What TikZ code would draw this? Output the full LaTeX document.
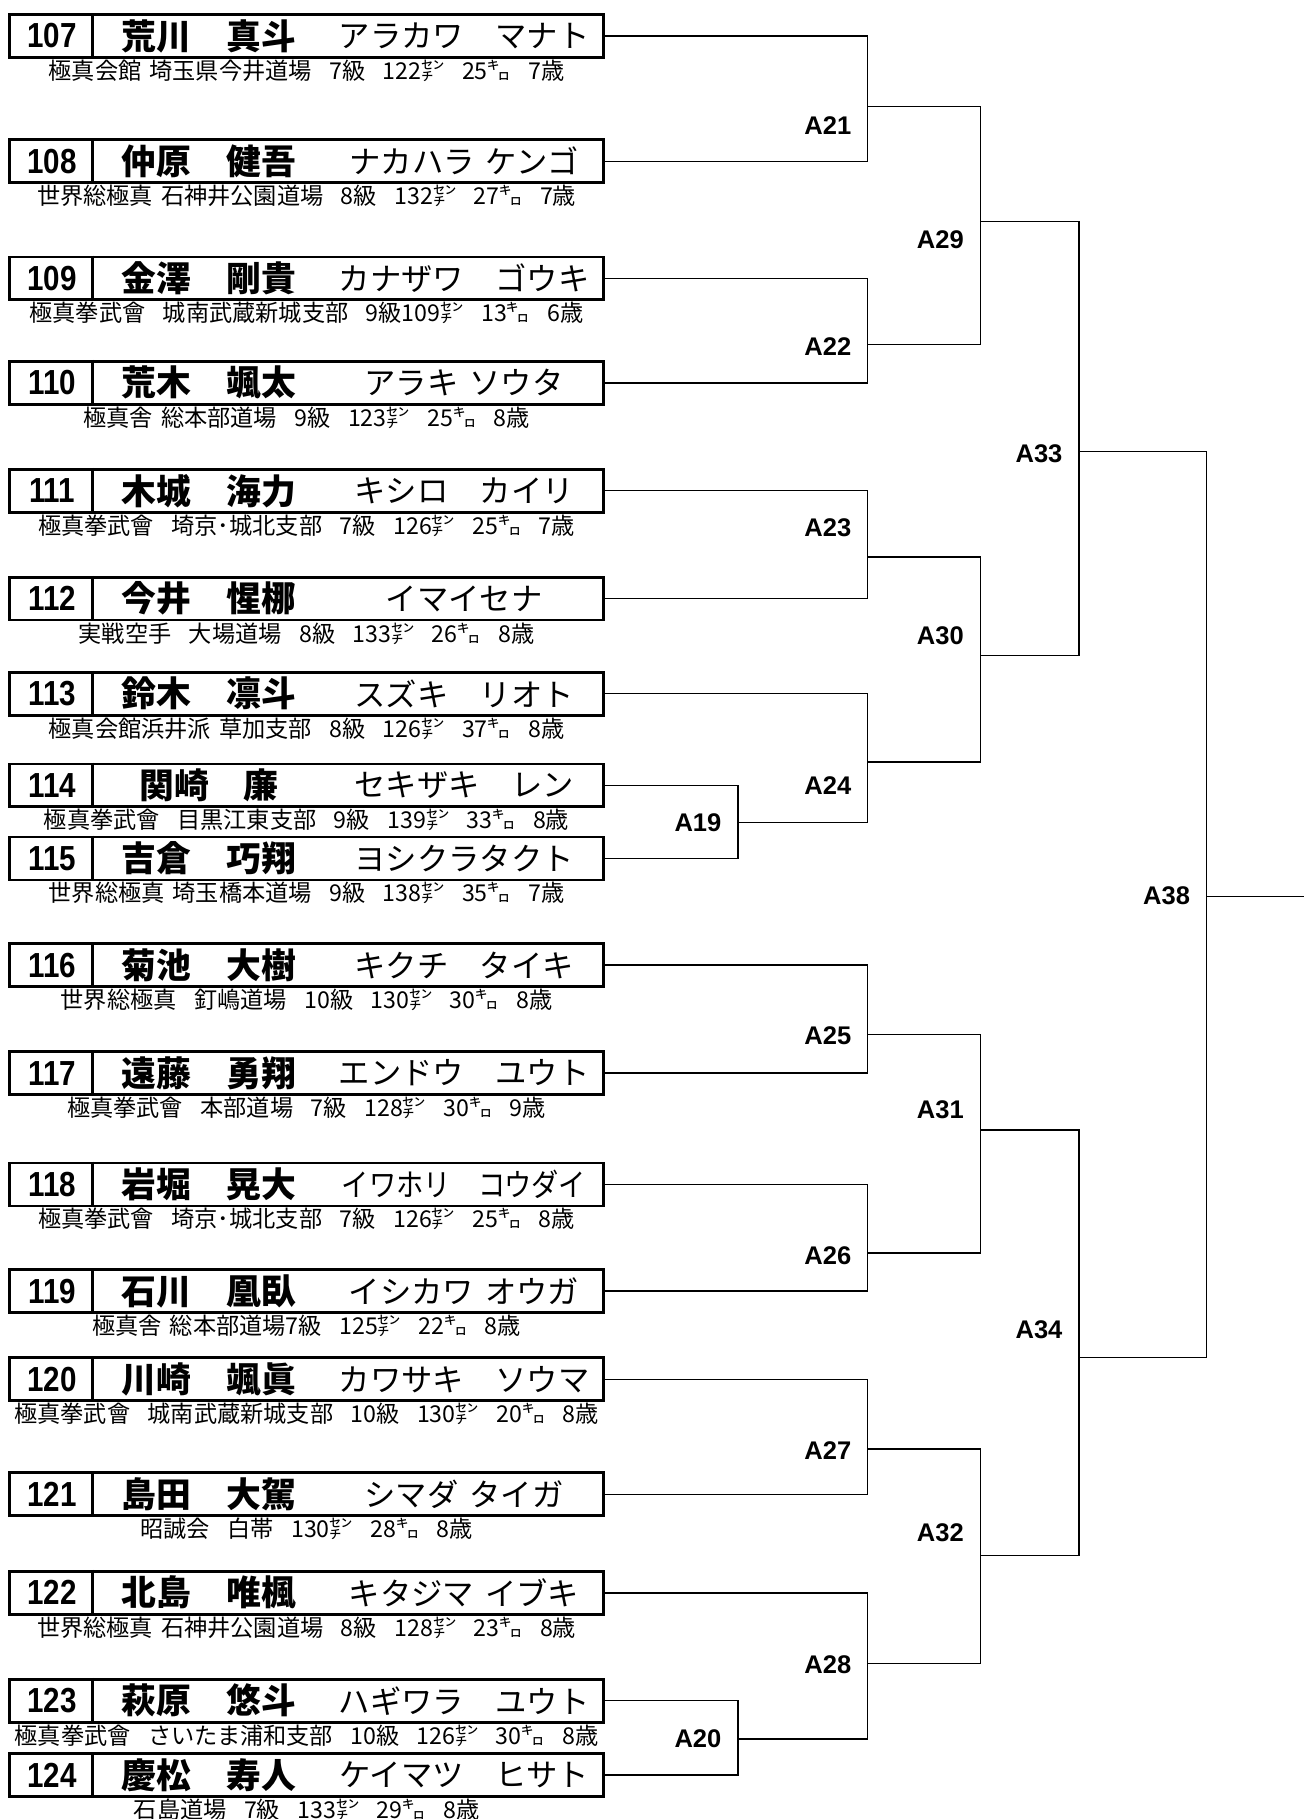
\documentclass[tikz,border=0pt]{standalone}
\usepackage{fontspec}
\setmainfont{Liberation Sans}
\newfontfamily\jpfont{Noto Sans CJK JP}
\newfontfamily\numfont[FakeStretch=0.85]{Liberation Sans}
\usetikzlibrary{calc, positioning}
\newcommand{\hg}{\hspace{0.35em}}
\newcommand{\dg}{\hspace{0.75em}}
\tikzset{
  % entry boxes
  entrybox/.style={rectangle, draw=black, line width=2.4pt, minimum width=511.5pt, minimum height=37pt, inner sep=0pt},
  numtxt/.style={inner sep=0pt, font=\numfont\bfseries\fontsize{30}{32}\selectfont},
  nametxt/.style={inner sep=0pt, font=\jpfont\bfseries\fontsize{30}{32}\selectfont},
  kanatxt/.style={inner sep=0pt, font=\jpfont\fontsize{27}{29}\selectfont},
  infotxt/.style={inner sep=0pt, font=\jpfont\fontsize{20}{22}\selectfont},
  % bracket
  brk/.style={line width=1.2pt},
  match/.style={inner sep=0pt, anchor=east, font=\bfseries\fontsize{22}{24}\selectfont},
}
\begin{document}
\begin{tikzpicture}[x=1pt, y=1pt]
    \useasboundingbox (0,0) rectangle (1124,-1568);
    % Entries: number / centre y / name / kana / club line
    \foreach \n/\y/\nm/\kn/\club in {
      107/31/荒川　真斗/アラカワ　マナト/極真会館\hg 埼玉県今井道場\dg 7級\dg 122㌢\dg 25㌔\dg 7歳,
      108/139/仲原　健吾/ナカハラ\hg ケンゴ/世界総極真\hg 石神井公園道場\dg 8級\dg 132㌢\dg 27㌔\dg 7歳,
      109/240/金澤　剛貴/カナザワ　ゴウキ/極真拳武會\dg 城南武蔵新城支部\dg 9級109㌢\dg 13㌔\dg 6歳,
      110/330/荒木　颯太/アラキ\hg ソウタ/極真舎\hg 総本部道場\dg 9級\dg 123㌢\dg 25㌔\dg 8歳,
      111/423/木城　海力/キシロ　カイリ/極真拳武會\dg 埼京･城北支部\dg 7級\dg 126㌢\dg 25㌔\dg 7歳,
      112/516/今井　惺梛/イマイセナ/実戦空手\dg 大場道場\dg 8級\dg 133㌢\dg 26㌔\dg 8歳,
      113/598/鈴木　凛斗/スズキ　リオト/極真会館浜井派\hg 草加支部\dg 8級\dg 126㌢\dg 37㌔\dg 8歳,
      114/677/関崎　廉/セキザキ　レン/極真拳武會\dg 目黒江東支部\dg 9級\dg 139㌢\dg 33㌔\dg 8歳,
      115/740/吉倉　巧翔/ヨシクラタクト/世界総極真\hg 埼玉橋本道場\dg 9級\dg 138㌢\dg 35㌔\dg 7歳,
      116/832/菊池　大樹/キクチ　タイキ/世界総極真\dg 釘嶋道場\dg 10級\dg 130㌢\dg 30㌔\dg 8歳,
      117/925/遠藤　勇翔/エンドウ　ユウト/極真拳武會\dg 本部道場\dg 7級\dg 128㌢\dg 30㌔\dg 9歳,
      118/1021/岩堀　晃大/\scalebox{.87}[1]{イワホリ　コウダイ}/極真拳武會\dg 埼京･城北支部\dg 7級\dg 126㌢\dg 25㌔\dg 8歳,
      119/1113/石川　凰臥/イシカワ\hg オウガ/極真舎\hg 総本部道場7級\dg 125㌢\dg 22㌔\dg 8歳,
      120/1189/川崎　颯眞/カワサキ　ソウマ/極真拳武會\dg 城南武蔵新城支部\dg 10級\dg 130㌢\dg 20㌔\dg 8歳,
      121/1288/島田　大駕/シマダ\hg タイガ/昭誠会\dg 白帯\dg 130㌢\dg 28㌔\dg 8歳,
      122/1373/北島　唯楓/キタジマ\hg イブキ/世界総極真\hg 石神井公園道場\dg 8級\dg 128㌢\dg 23㌔\dg 8歳,
      123/1466/萩原　悠斗/ハギワラ　ユウト/極真拳武會\dg さいたま浦和支部\dg 10級\dg 126㌢\dg 30㌔\dg 8歳,
      124/1530/慶松　寿人/ケイマツ　ヒサト/石島道場\dg 7級\dg 133㌢\dg 29㌔\dg 8歳} {
      \node[entrybox] (b\n) at (264.25,-\y) {};
      \draw[line width=2pt] ($(b\n.north west)+(72.5,0)$) -- ($(b\n.south west)+(72.5,0)$);
      \node[numtxt] (n\n) at (45,-\y) {\n};
      \node[nametxt] (m\n) at (180,-\y) {\nm};
      \node[kanatxt] (k\n) at (400,-\y) {\kn};
      \node[infotxt] (i\n) at (264.25,-\y-30) {\club};
    }
    % Match points: number / x / y / label y
    \foreach \m/\x/\y/\ly in {21/748/92/108, 22/748/297/299, 23/748/480/455, 24/748/657/677,
      25/748/892/893, 26/748/1080/1082, 27/748/1249/1250, 28/748/1434/1435,
      19/636/709/709, 20/636/1499/1499,
      29/845/191/207, 30/845/565/548, 31/845/974/957, 32/845/1341/1321,
      33/930/389/391, 34/930/1170/1146, 38/1040/773/772} {
      \coordinate (A\m) at (\x,-\y);
      \node[match] (l\m) at (\x-14,-\ly) {A\m};
    }
    \coordinate (fin) at (1124,-773);
    % First round
    \draw[brk] (b107.east) -| (A21) |- (b108.east);
    \draw[brk] (b109.east) -| (A22) |- (b110.east);
    \draw[brk] (b111.east) -| (A23) |- (b112.east);
    \draw[brk] (b114.east) -| (A19) |- (b115.east);
    \draw[brk] (b113.east) -| (A24) |- (A19);
    \draw[brk] (b116.east) -| (A25) |- (b117.east);
    \draw[brk] (b118.east) -| (A26) |- (b119.east);
    \draw[brk] (b120.east) -| (A27) |- (b121.east);
    \draw[brk] (b123.east) -| (A20) |- (b124.east);
    \draw[brk] (b122.east) -| (A28) |- (A20);
    % Later rounds
    \draw[brk] (A21) -| (A29) |- (A22);
    \draw[brk] (A23) -| (A30) |- (A24);
    \draw[brk] (A25) -| (A31) |- (A26);
    \draw[brk] (A27) -| (A32) |- (A28);
    \draw[brk] (A29) -| (A33) |- (A30);
    \draw[brk] (A31) -| (A34) |- (A32);
    \draw[brk] (A33) -| (A38) |- (A34);
    \draw[brk] (A38) -- (fin);
\end{tikzpicture}
\end{document}
